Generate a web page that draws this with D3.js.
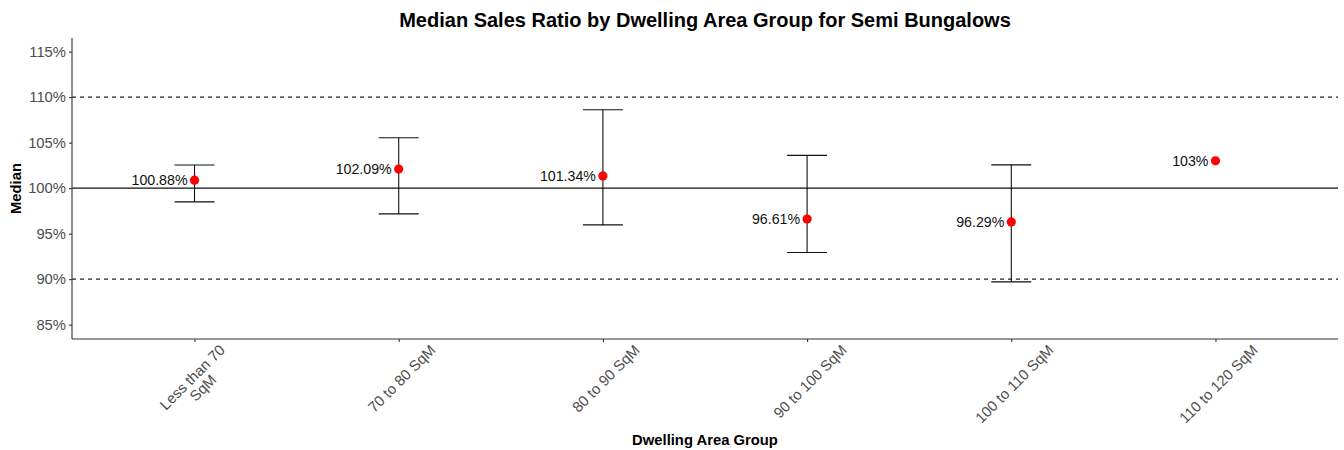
<!DOCTYPE html>
<html>
<head>
<meta charset="utf-8">
<script src="https://cdn.jsdelivr.net/npm/d3@7"></script>
<style>
  html, body { margin: 0; padding: 0; background: #fff; }
  svg { display: block; font-family: "Liberation Sans", Arial, sans-serif; }
</style>
</head>
<body>
<svg id="chart" width="1344" height="450"></svg>
<script>
// Dwelling area groups and their median sales ratios (%)
const categories = ["Less than 70\nSqM", "70 to 80 SqM", "80 to 90 SqM", "90 to 100 SqM", "100 to 110 SqM", "110 to 120 SqM"];
const medians = [100.88, 102.09, 101.34, 96.61, 96.29, 103];
// Confidence interval bounds (null where no interval is available)
const lower = [98.49, 97.17, 95.96, 92.92, 89.7, null];
const upper = [102.55, 105.53, 108.61, 103.6, 102.56, null];
const yTicks = [85, 90, 95, 100, 105, 110, 115];
const refLines = [90, 110];

const svg = d3.select("#chart");
const margin = { left: 72, right: 6, top: 38, bottom: 111 };
const W = 1344, H = 450;
const x0 = margin.left, x1 = W - margin.right;
const y0 = margin.top, y1 = H - margin.bottom;

const x = d3.scalePoint().domain(categories).range([x0, x1]).padding(0.6);
const y = d3.scaleLinear().domain([83.42, 116.5]).range([y1, y0]);

const data = categories.map((c, i) => ({ c, m: medians[i], lo: lower[i], hi: upper[i] }));

// Reference lines
svg.selectAll("line.ref").data(refLines).join("line")
  .attr("x1", x0).attr("x2", x1)
  .attr("y1", d => y(d)).attr("y2", d => y(d))
  .attr("stroke", "#222").attr("stroke-width", 1.1).attr("stroke-dasharray", "4,4");
svg.append("line")
  .attr("x1", x0).attr("x2", x1).attr("y1", y(100)).attr("y2", y(100))
  .attr("stroke", "#111").attr("stroke-width", 1.1);

// Error bars
const eb = data.filter(d => d.lo != null);
const capHalf = 20;
const g = svg.append("g").attr("stroke", "#111").attr("stroke-width", 1.1);
g.selectAll("line.v").data(eb).join("line")
  .attr("x1", d => x(d.c)).attr("x2", d => x(d.c))
  .attr("y1", d => y(d.lo)).attr("y2", d => y(d.hi));
g.selectAll("line.top").data(eb).join("line")
  .attr("x1", d => x(d.c) - capHalf).attr("x2", d => x(d.c) + capHalf)
  .attr("y1", d => y(d.hi)).attr("y2", d => y(d.hi));
g.selectAll("line.bot").data(eb).join("line")
  .attr("x1", d => x(d.c) - capHalf).attr("x2", d => x(d.c) + capHalf)
  .attr("y1", d => y(d.lo)).attr("y2", d => y(d.lo));

// Median points
svg.selectAll("circle.pt").data(data).join("circle")
  .attr("cx", d => x(d.c)).attr("cy", d => y(d.m)).attr("r", 4.6)
  .attr("fill", "#ff0000");

// Value labels
svg.selectAll("text.val").data(data).join("text")
  .attr("x", d => x(d.c) - 7).attr("y", d => y(d.m))
  .attr("dy", "0.36em").attr("text-anchor", "end")
  .attr("font-size", 14.2).attr("fill", "#111")
  .text(d => (Number.isInteger(d.m) ? d.m : d.m.toFixed(2)) + "%");

// Y axis
const yAxis = d3.axisLeft(y).tickValues(yTicks).tickSize(3).tickPadding(3).tickFormat(d => d + "%");
const ya = svg.append("g").attr("transform", `translate(${x0},0)`).call(yAxis);
ya.select(".domain").attr("d", `M0,${y0}V${y1}`).attr("stroke", "#333").attr("stroke-width", 1.1);
ya.selectAll(".tick line").attr("stroke", "#333").attr("stroke-width", 1.1);
ya.selectAll(".tick text").attr("fill", "#4d4d4d").attr("font-size", 14.8)
  .attr("font-family", "Liberation Sans, Arial, sans-serif");

// X axis
const xAxis = d3.axisBottom(x).tickSize(3).tickFormat("");
const xa = svg.append("g").attr("transform", `translate(0,${y1})`).call(xAxis);
xa.select(".domain").attr("d", `M${x0},0H${x1}`).attr("stroke", "#333").attr("stroke-width", 1.1);
xa.selectAll(".tick line").attr("stroke", "#333").attr("stroke-width", 1.1);

// Rotated category labels
const lineH = 15;
categories.forEach(c => {
  const lines = c.split("\n");
  const lg = svg.append("g");
  const t = lg.append("text").attr("text-anchor", "middle").attr("font-size", 14.8).attr("fill", "#4d4d4d");
  lines.forEach((ln, i) => {
    t.append("tspan").attr("x", 0).attr("y", (i - (lines.length - 1) / 2) * lineH).attr("dy", "0.35em").text(ln);
  });
  const w = d3.max(t.selectAll("tspan").nodes(), n => n.getComputedTextLength());
  const h = lines.length * lineH;
  const cy = y1 + 3 + 0.7071 * (w + h) / 2;
  lg.attr("transform", `translate(${x(c) + 3},${cy}) rotate(-45)`);
});

// Titles
svg.append("text").attr("x", (x0 + x1) / 2).attr("y", 27).attr("text-anchor", "middle")
  .attr("font-size", 20).attr("font-weight", "bold").attr("fill", "#000")
  .text("Median Sales Ratio by Dwelling Area Group for Semi Bungalows");
svg.append("text").attr("x", (x0 + x1) / 2).attr("y", 445).attr("text-anchor", "middle")
  .attr("font-size", 14.8).attr("font-weight", "bold").attr("fill", "#000")
  .text("Dwelling Area Group");
svg.append("text").attr("transform", `translate(21,${(y0 + y1) / 2}) rotate(-90)`)
  .attr("text-anchor", "middle").attr("font-size", 14.8).attr("font-weight", "bold").attr("fill", "#000")
  .text("Median");
</script>
</body>
</html>
